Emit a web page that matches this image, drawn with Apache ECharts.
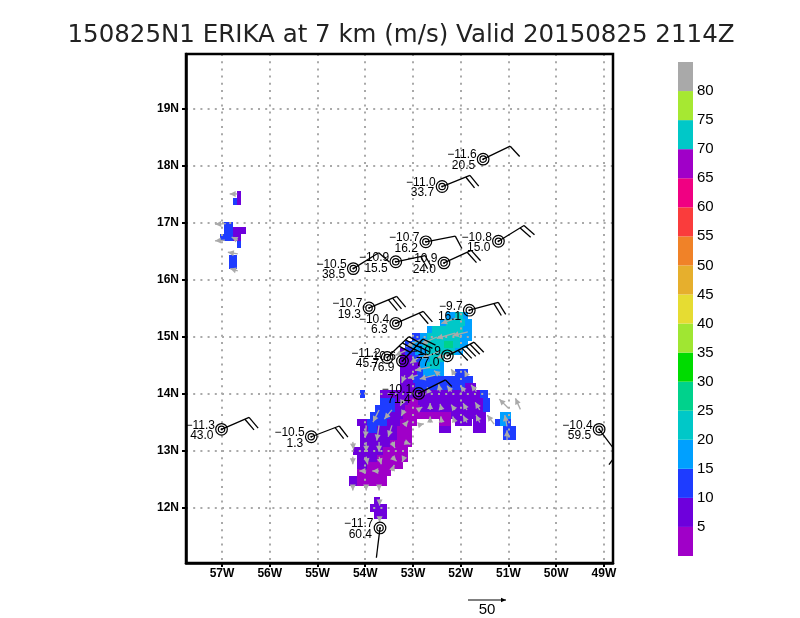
<!DOCTYPE html>
<html>
<head>
<meta charset="utf-8">
<title>150825N1 ERIKA</title>
<script src="https://cdn.jsdelivr.net/npm/echarts@6/dist/echarts.min.js"></script>
<style>
html, body { margin: 0; padding: 0; background: #fff; }
#main { width: 800px; height: 618px; }
</style>
</head>
<body>
<div id="main"></div>
<script>
var titleText = '150825N1 ERIKA at 7 km (m/s) Valid 20150825 2114Z';
var lonTicks = [-57, -56, -55, -54, -53, -52, -51, -50, -49];
var latTicks = [12, 13, 14, 15, 16, 17, 18, 19];

// colour bar, bottom band first, every band is 5 m/s wide
var barColors = ['#a000c8', '#6e00dc', '#1e3cff', '#00a0ff', '#00c8c8', '#00d28c', '#00dc00', '#a0e632',
    '#e6dc32', '#e6af2d', '#f08228', '#fa3c3c', '#f00082', '#a000c8', '#00c8c8', '#a6e832', '#a9a9a9'];
var barTicks = [5, 10, 15, 20, 25, 30, 35, 40, 45, 50, 55, 60, 65, 70, 75, 80];

// storms: position, temperature, speed, barb direction on screen (deg) and feather count
var stormLon = [-51.53, -52.39, -52.73, -51.21, -54.25, -53.36, -52.35, -53.92, -53.36, -51.82, -53.54, -53.22, -52.28, -52.88, -57.01, -55.13, -53.69, -49.10];
var stormLat = [18.12, 17.64, 16.67, 16.68, 16.20, 16.32, 16.30, 15.51, 15.24, 15.47, 14.64, 14.58, 14.67, 14.01, 13.38, 13.25, 11.65, 13.38];
var stormTemp = ['−11.6', '−11.0', '−10.7', '−10.8', '−10.5', '−10.9', '−10.9', '−10.7', '−10.4', '−9.7', '−11.2', '−10.6', '−10.9', '−10.1', '−11.3', '−10.5', '−11.7', '−10.4'];
var stormSpeed = ['20.5', '33.7', '16.2', '15.0', '38.5', '15.5', '24.0', '19.3', '6.3', '16.1', '45.7', '76.9', '77.0', '71.4', '43.0', '1.3', '60.4', '59.5'];
var barbAngle = [-25.6, -22, -11, -31.5, -32, -12, -24.8, -22.7, -23.6, -15, -44, -47, -27, -26.8, -23.4, -21, 97, 53];
var barbFeathers = [1, 2, 1, 2, 1, 2, 2, 3, 2, 2, 4, 4, 5, 0.5, 2, 2, 0, 1];

// wind patches, one row per latitude: [lat, lon from, lon to, speed]
var windCells = [
    [15.375, -52.30, -52.12, 17], [15.375, -52.12, -51.95, 22], [15.375, -51.95, -51.84, 17],
    [15.25, -52.44, -52.30, 17], [15.25, -52.30, -51.91, 22], [15.25, -51.91, -51.77, 17],
    [15.125, -52.71, -52.61, 17], [15.125, -52.61, -51.95, 22], [15.125, -51.95, -51.77, 17],
    [15.0, -53.03, -52.85, 12], [15.0, -52.85, -52.71, 17], [15.0, -52.71, -52.02, 22], [15.0, -52.02, -51.77, 17],
    [14.875, -53.17, -53.03, 12], [14.875, -53.03, -52.78, 17], [14.875, -52.78, -52.36, 22], [14.875, -52.36, -52.16, 27], [14.875, -52.16, -52.02, 22], [14.875, -52.02, -51.84, 17],
    [14.75, -53.27, -53.17, 7], [14.75, -53.17, -52.96, 12], [14.75, -52.96, -52.71, 17], [14.75, -52.71, -52.12, 22], [14.75, -52.12, -51.95, 17],
    [14.625, -53.27, -53.03, 7], [14.625, -53.03, -52.85, 12], [14.625, -52.85, -52.65, 17], [14.625, -52.65, -52.36, 22],
    [14.5, -53.27, -52.85, 7], [14.5, -52.85, -52.70, 17], [14.5, -52.70, -52.44, 22], [14.5, -52.44, -52.36, 17],
    [14.375, -53.27, -52.92, 7], [14.375, -52.92, -52.78, 12], [14.375, -52.78, -52.36, 17], [14.375, -52.12, -51.84, 12],
    [14.25, -53.27, -52.99, 7], [14.25, -52.99, -51.74, 12],
    [14.125, -53.27, -52.96, 7], [14.125, -52.96, -51.91, 12], [14.125, -51.91, -51.67, 7],
    [14.0, -54.10, -54.0, 12], [14.0, -53.69, -51.60, 7], [14.0, -51.60, -51.42, 12],
    [13.875, -53.69, -53.38, 12], [13.875, -53.38, -53.10, 7], [13.875, -53.10, -52.89, 3], [13.875, -52.89, -51.53, 7], [13.875, -51.53, -51.39, 12],
    [13.75, -53.80, -53.38, 12], [13.75, -53.38, -53.17, 7], [13.75, -53.17, -52.85, 3], [13.75, -52.85, -51.53, 7], [13.75, -51.53, -51.39, 12],
    [13.625, -53.90, -53.48, 12], [13.625, -53.48, -53.20, 7], [13.625, -53.20, -52.21, 3], [13.625, -52.21, -51.48, 7], [13.625, -51.18, -50.95, 17],
    [13.5, -54.17, -53.97, 7], [13.5, -53.97, -53.55, 12], [13.5, -53.55, -53.27, 7], [13.5, -53.27, -52.92, 3], [13.5, -52.45, -52.21, 3], [13.5, -52.12, -51.77, 7], [13.5, -51.74, -51.48, 7], [13.5, -51.28, -51.18, 12], [13.5, -51.18, -51.04, 17], [13.5, -51.04, -50.95, 12],
    [13.375, -54.11, -53.94, 7], [13.375, -53.94, -53.76, 12], [13.375, -53.76, -53.34, 7], [13.375, -53.34, -53.01, 3], [13.375, -52.45, -52.21, 7], [13.375, -51.74, -51.48, 7], [13.375, -51.11, -50.85, 12],
    [13.25, -54.11, -53.34, 7], [13.25, -53.34, -53.01, 3], [13.25, -51.11, -50.85, 12],
    [13.125, -54.11, -53.48, 7], [13.125, -53.48, -53.01, 3],
    [13.0, -54.26, -53.62, 7], [13.0, -53.62, -53.10, 3],
    [12.875, -54.18, -53.76, 7], [12.875, -53.76, -53.10, 3],
    [12.75, -54.18, -53.97, 7], [12.75, -53.97, -53.20, 3],
    [12.625, -54.18, -53.45, 3],
    [12.5, -54.34, -54.18, 7], [12.5, -54.18, -53.55, 3],
    [12.44, -54.34, -54.18, 7], [12.44, -54.18, -53.55, 3],
    [12.125, -53.81, -53.69, 7],
    [12.0, -53.90, -53.55, 7],
    [11.875, -53.81, -53.55, 7],
    [17.5, -56.68, -56.60, 7],
    [17.375, -56.76, -56.68, 12], [17.375, -56.68, -56.60, 7],
    [16.95, -56.96, -56.76, 12],
    [16.875, -56.96, -56.76, 12], [16.875, -56.76, -56.50, 7],
    [16.75, -57.04, -56.76, 12], [16.75, -56.76, -56.60, 7],
    [16.625, -56.68, -56.60, 12],
    [16.375, -56.85, -56.69, 12],
    [16.25, -56.85, -56.69, 12]
];

// grey wind vectors: [lon, lat, u, v] in m/s
var windVectors = [
    [-53.70, 12.15, 0, -8], [-53.70, 11.83, 0, -6],
    [-54.26, 12.40, 0, -7], [-53.98, 12.40, 0, -7], [-53.71, 12.40, 0, -7],
    [-53.98, 12.65, -9, 0], [-53.71, 12.65, -9, 0], [-53.44, 12.65, 3, 8],
    [-54.26, 12.90, 0, -10], [-53.98, 12.90, 2, -10], [-53.71, 12.90, 3, -10], [-53.44, 12.90, 6, -6], [-53.18, 12.90, -3, -7],
    [-54.26, 13.16, 1, -10], [-53.98, 13.16, 0, -13], [-53.71, 13.16, 0, -13], [-53.44, 13.16, 4, -8], [-53.18, 13.16, 8, -3],
    [-53.98, 13.45, -1, -16], [-53.71, 13.45, -3, -20], [-53.44, 13.45, -5, -15], [-53.18, 13.45, 5, 6], [-52.90, 13.45, 8, 2],
    [-52.64, 13.50, 0, 8], [-52.40, 13.50, -1, 8], [-52.12, 13.50, -3, 8], [-51.87, 13.50, -5, 9], [-51.60, 13.50, -5, 10],
    [-53.71, 13.72, -8, -16], [-53.44, 13.72, -10, -12], [-53.18, 13.72, -4, -8], [-52.90, 13.72, 6, 4], [-52.64, 13.72, 0, 9], [-52.40, 13.72, -2, 8], [-52.12, 13.72, -5, 7], [-51.87, 13.72, -5, 9], [-51.60, 13.72, -6, 10],
    [-51.30, 13.47, -9, 12], [-51.03, 13.43, -3, 15], [-51.03, 13.19, 0, 13], [-51.00, 13.75, -12, 12], [-50.75, 13.73, -6.5, 14.5],
    [-53.20, 13.90, -4, -8], [-52.67, 14.04, -2, 6], [-52.43, 14.04, -2, 10], [-52.19, 14.04, -6, 8], [-51.91, 14.04, -6, 8], [-51.67, 14.04, -7, 9],
    [-53.17, 14.33, -4, -10], [-52.90, 14.33, -13, -4], [-52.54, 14.33, -20, -5], [-52.43, 14.33, -8, 6], [-52.12, 14.33, -5, 8], [-51.87, 14.33, -3, 6],
    [-52.64, 14.47, -20, -4],
    [-52.12, 14.75, -24, -9], [-52.43, 14.75, -24, -9], [-52.85, 14.66, -13, -9], [-53.13, 14.77, -15, -7],
    [-51.85, 15.09, -20, -5], [-52.12, 15.07, -24, -7], [-52.50, 15.00, -20, -9], [-52.85, 14.95, -18, -9],
    [-52.09, 15.33, -20, -7],
    [-56.68, 17.51, -10, 0], [-56.92, 16.99, -14, -1], [-56.94, 16.70, -13, -1], [-56.67, 16.70, -8, 4], [-56.67, 16.46, -13, 2], [-56.67, 16.16, -10, 3]
];
var keySpeed = 50;

var vectorScale = 0.76; // pixels per m/s
var cellHalf = 0.0625;
var chart = echarts.init(document.getElementById('main'));

function bandColor(speed) {
    return barColors[Math.min(Math.floor(speed / 5), barColors.length - 1)];
}

function renderCell(params, api) {
    var a = api.coord([api.value(1), api.value(0) + cellHalf]);
    var b = api.coord([api.value(2), api.value(0) - cellHalf]);
    var x = Math.round(a[0]), y = Math.round(a[1]);
    return {
        type: 'rect',
        shape: { x: x, y: y, width: Math.round(b[0]) - x, height: Math.round(b[1]) - y },
        style: { fill: bandColor(api.value(3)) }
    };
}

function renderVector(params, api) {
    var tail = api.coord([api.value(0), api.value(1)]);
    var dx = api.value(2) * vectorScale, dy = -api.value(3) * vectorScale;
    var len = Math.sqrt(dx * dx + dy * dy), ux = dx / len, uy = dy / len;
    var tip = [tail[0] + dx, tail[1] + dy];
    var headLen = 6, headHalf = 3;
    return {
        type: 'group',
        children: [{
            type: 'line',
            shape: { x1: tail[0], y1: tail[1], x2: tip[0], y2: tip[1] },
            style: { stroke: '#aaaaaa', lineWidth: 1.3 }
        }, {
            type: 'polygon',
            shape: { points: [tip,
                [tip[0] - ux * headLen - uy * headHalf, tip[1] - uy * headLen + ux * headHalf],
                [tip[0] - ux * headLen + uy * headHalf, tip[1] - uy * headLen - ux * headHalf]] },
            style: { fill: '#aaaaaa' }
        }]
    };
}

function renderBarb(params, api) {
    var c = api.coord([api.value(0), api.value(1)]);
    var a = barbAngle[params.dataIndex] * Math.PI / 180;
    var f = a + 73 * Math.PI / 180;
    var shaft = 30, spacing = 4.5, featherLen = 14;
    var pen = { stroke: '#000', lineWidth: 1.3, fill: null };
    var kids = [{
        type: 'line',
        shape: { x1: c[0], y1: c[1], x2: c[0] + Math.cos(a) * shaft, y2: c[1] + Math.sin(a) * shaft },
        style: pen
    }];
    var n = barbFeathers[params.dataIndex];
    for (var i = 0; i < n; i++) {
        var r = shaft - i * spacing;
        var len = n - i < 1 ? featherLen * 0.65 : featherLen;
        var x = c[0] + Math.cos(a) * r, y = c[1] + Math.sin(a) * r;
        kids.push({
            type: 'line',
            shape: { x1: x, y1: y, x2: x + Math.cos(f) * len, y2: y + Math.sin(f) * len },
            style: pen
        });
    }
    return { type: 'group', children: kids };
}

function renderStorm(params, api) {
    var c = api.coord([api.value(0), api.value(1)]);
    var i = params.dataIndex;
    var ring = { stroke: '#000', lineWidth: 1.2, fill: null };
    var labelFont = '12px "Liberation Sans"';
    return {
        type: 'group',
        children: [
            { type: 'circle', shape: { cx: c[0], cy: c[1], r: 5.8 }, style: ring },
            { type: 'circle', shape: { cx: c[0], cy: c[1], r: 3.2 }, style: ring },
            { type: 'circle', shape: { cx: c[0], cy: c[1], r: 1 }, style: { fill: '#000' } },
            { type: 'text', style: { x: c[0] - 6.5, y: c[1] - 4, text: stormTemp[i], align: 'right', verticalAlign: 'middle', font: labelFont, fill: '#000' } },
            { type: 'text', style: { x: c[0] - 8, y: c[1] + 6.5, text: stormSpeed[i], align: 'right', verticalAlign: 'middle', font: labelFont, fill: '#000' } }
        ]
    };
}

var stormData = stormLon.map(function (lon, i) { return [lon, stormLat[i]]; });

var tickFont = { fontFamily: '"Liberation Sans"', fontWeight: 'bold', fontSize: 12, color: '#000' };
var gridDots = { show: true, lineStyle: { color: '#a9a9a9', width: 2, type: [2, 5.2] } };
var frameLine = { show: true, onZero: false, lineStyle: { color: '#000', width: 2.5 } };
var frameTick = { show: true, length: 4, lineStyle: { color: '#000', width: 2 } };

var series = [
    { type: 'custom', xAxisIndex: 0, yAxisIndex: 0, z: 1, renderItem: renderCell, data: windCells, encode: { x: [1, 2], y: 0 }, silent: true },
    { type: 'custom', xAxisIndex: 0, yAxisIndex: 0, z: 5, renderItem: renderVector, data: windVectors, encode: { x: 0, y: 1 }, silent: true },
    { type: 'custom', xAxisIndex: 0, yAxisIndex: 0, z: 6, renderItem: renderBarb, data: stormData, encode: { x: 0, y: 1 }, clip: true, silent: true },
    { type: 'custom', xAxisIndex: 0, yAxisIndex: 0, z: 7, renderItem: renderStorm, data: stormData, encode: { x: 0, y: 1 }, silent: true }
];
barColors.forEach(function (color) {
    series.push({
        type: 'bar', xAxisIndex: 1, yAxisIndex: 1, stack: 'bar', data: [5], barWidth: '100%',
        itemStyle: { color: color }, silent: true
    });
});

chart.setOption({
    animation: false,
    backgroundColor: '#fff',
    title: {
        text: titleText,
        left: 396, top: 18, textAlign: 'center',
        textStyle: { fontFamily: '"DejaVu Sans"', fontWeight: 'normal', fontSize: 24.5, color: '#222' }
    },
    grid: [
        { left: 186, right: 187, top: 54, bottom: 55, show: true, borderColor: '#000', borderWidth: 2.5, backgroundColor: 'transparent', z: 4 },
        { left: 678, width: 15, top: 62, bottom: 62 }
    ],
    xAxis: [{
        type: 'value', gridIndex: 0, min: -57.754, max: -48.81, z: 3,
        axisLine: frameLine,
        axisTick: Object.assign({ customValues: lonTicks }, frameTick),
        axisLabel: Object.assign({ customValues: lonTicks, margin: 5, formatter: function (v) { return Math.abs(v) + 'W'; } }, tickFont),
        splitLine: gridDots
    }, {
        type: 'category', gridIndex: 1, data: ['bar'], show: false
    }],
    yAxis: [{
        type: 'value', gridIndex: 0, min: 11.035, max: 19.965, z: 3,
        axisLine: frameLine,
        axisTick: Object.assign({ customValues: latTicks }, frameTick),
        axisLabel: Object.assign({ customValues: latTicks, margin: 7, formatter: function (v) { return v + 'N'; } }, tickFont),
        splitLine: gridDots
    }, {
        type: 'value', gridIndex: 1, min: 0, max: 85, position: 'right',
        axisLine: { show: false }, axisTick: { show: false, customValues: barTicks }, splitLine: { show: false },
        axisLabel: { customValues: barTicks, margin: 4, fontFamily: '"Liberation Sans"', fontSize: 15, color: '#000', align: 'left' }
    }],
    series: series,
    // reference arrow under the map
    graphic: [
        { type: 'line', shape: { x1: 468, y1: 600, x2: 468 + keySpeed * vectorScale, y2: 600 }, style: { stroke: '#000', lineWidth: 1 } },
        { type: 'polygon', shape: { points: [[468 + keySpeed * vectorScale, 600], [468 + keySpeed * vectorScale - 5, 597.8], [468 + keySpeed * vectorScale - 5, 602.2]] }, style: { fill: '#000' } },
        { type: 'text', style: { x: 487, y: 610, text: String(keySpeed), align: 'center', verticalAlign: 'middle', font: '15px "Liberation Sans"', fill: '#000' } }
    ]
});
</script>
</body>
</html>
